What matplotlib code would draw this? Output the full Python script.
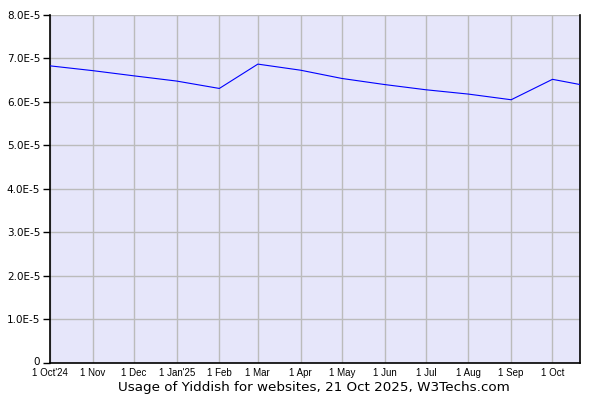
import datetime as dt
import matplotlib
matplotlib.use("Agg")
import matplotlib.pyplot as plt
import matplotlib.dates as mdates
import matplotlib.transforms as mtransforms

# monthly usage share values (fraction)
dates = [dt.date(2024, 10, 1), dt.date(2024, 11, 1), dt.date(2024, 12, 1),
         dt.date(2025, 1, 1), dt.date(2025, 2, 1), dt.date(2025, 3, 1),
         dt.date(2025, 4, 1), dt.date(2025, 5, 1), dt.date(2025, 6, 1),
         dt.date(2025, 7, 1), dt.date(2025, 8, 1), dt.date(2025, 9, 1),
         dt.date(2025, 10, 1), dt.date(2025, 10, 21)]
usage = [6.83e-5, 6.72e-5, 6.60e-5, 6.48e-5, 6.31e-5, 6.87e-5, 6.73e-5,
         6.54e-5, 6.40e-5, 6.28e-5, 6.18e-5, 6.05e-5, 6.52e-5, 6.40e-5]

tick_dates = dates[:13]
tick_labels = ["1 Oct'24", "1 Nov", "1 Dec", "1 Jan'25", "1 Feb", "1 Mar", "1 Apr",
               "1 May", "1 Jun", "1 Jul", "1 Aug", "1 Sep", "1 Oct"]
y_ticks = [0, 1e-5, 2e-5, 3e-5, 4e-5, 5e-5, 6e-5, 7e-5, 8e-5]
y_labels = ["0", "1.0E-5", "2.0E-5", "3.0E-5", "4.0E-5", "5.0E-5", "6.0E-5", "7.0E-5", "8.0E-5"]

fig = plt.figure(figsize=(6, 4), dpi=100)
ax = fig.add_axes([50 / 600, (400 - 362.7) / 400, 530 / 600, 347.7 / 400])
ax.set_facecolor("#e6e6fa")

ax.plot(mdates.date2num(dates), usage, color="#0000ff", linewidth=0.8, zorder=3)

ax.set_xlim(mdates.date2num(dt.date(2024, 10, 1)), mdates.date2num(dt.date(2025, 10, 21)))
ax.set_ylim(0, 8e-5)

ax.set_xticks(mdates.date2num(tick_dates))
ax.set_xticklabels(tick_labels, fontfamily="Liberation Sans", fontsize=7)
ax.set_yticks(y_ticks)
ax.set_yticklabels(y_labels, fontfamily="DejaVu Sans", fontsize=7.5)

ax.tick_params(axis="x", length=0, pad=3.5)
ax.tick_params(axis="y", length=5, width=1, color="black", pad=2)

# lift the "0" label a little so it clears the date labels
zero_lbl = ax.get_yticklabels()[0]
zero_lbl.set_transform(zero_lbl.get_transform() +
                       mtransforms.ScaledTranslation(0, 2 / 100, fig.dpi_scale_trans))

ax.grid(True, color="#bbbbbb", linewidth=1, zorder=1)
ax.set_axisbelow(True)

ax.spines["top"].set_visible(False)
for s in ["left", "bottom", "right"]:
    ax.spines[s].set_color("black")
    ax.spines[s].set_linewidth(1.2)

fig.text(314 / 600, 1 - 388 / 400, "Usage of Yiddish for websites, 21 Oct 2025, W3Techs.com",
         ha="center", va="center", fontsize=9.7, fontfamily="DejaVu Sans")

fig.savefig("out.png", dpi=100)
